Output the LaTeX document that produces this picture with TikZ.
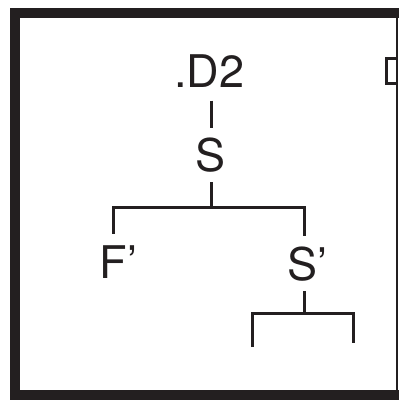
\documentclass[tikz,border=0pt]{standalone}
\usepackage{fontspec}
\setmainfont{TeX Gyre Heros}
\definecolor{ink}{HTML}{231F20}
\tikzset{
  label/.style={font=\fontsize{45}{45}\selectfont, text=ink, inner sep=0pt},
  branch/.style={draw=ink, line width=3pt, line cap=butt, line join=miter},
  frame/.style={draw=ink, line width=10pt, line join=miter},
}
\begin{document}
\begin{tikzpicture}[x=1pt,y=-1pt]
  \useasboundingbox (0,0) rectangle (399,400);
  % outer panel frame, continuing past the right edge
  \draw[frame] (405,12.5) -- (14.5,12.5) -- (14.5,394.5) -- (405,394.5);
  \draw[ink, line width=1.8pt] (397,16) -- (397,391);
  \draw[branch] (397,58.5) -- (386.5,58.5) -- (386.5,83.5) -- (397,83.5);

  % labels
  \node[label] (d2) at (209.5,71) {.D2};
  \node[label] (s)  at (211,155) {S};
  \node[label] (f)  at (118.5,262.5) {F'};
  \node[label] (sp) at (307.5,264) {S'};

  % bracket corners
  \coordinate (j1) at (211,207);
  \coordinate (l1) at (113,207);
  \coordinate (r1) at (304,207);
  \coordinate (j2) at (304,313);
  \coordinate (l2) at (252,313);
  \coordinate (r2) at (353,313);
  \coordinate (l2e) at (252,347);
  \coordinate (r2e) at (353,343);

  % .D2 -> S
  \draw[branch] ([yshift=-13pt]d2.south -| s) -- ([yshift=10pt]s.north);
  % S -> F', S'
  \draw[branch] ([yshift=-10pt]s.south) -- (j1);
  \draw[branch] ([yshift=12pt]f.north -| l1) -- (l1) -- (r1) -- ([yshift=11pt]sp.north -| r1);
  % S' -> open bracket
  \draw[branch] ([yshift=-10pt]sp.south -| j2) -- (j2);
  \draw[branch] (l2e) -- (l2) -- (r2) -- (r2e);
\end{tikzpicture}
\end{document}
